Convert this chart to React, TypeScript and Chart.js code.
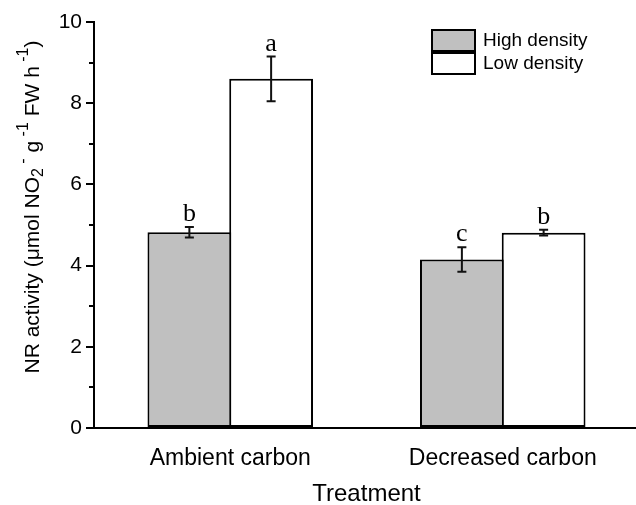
import React, { useEffect, useRef } from "react";
import { Chart, registerables } from "chart.js";

Chart.register(...registerables);

const categories = ["Ambient carbon", "Decreased carbon"];
const seriesNames = ["High density", "Low density"];
const highValues = [4.82, 4.15];
const highErrors = [0.13, 0.3];
const lowValues = [8.6, 4.81];
const lowErrors = [0.55, 0.07];
const highLetters = ["b", "c"];
const lowLetters = ["a", "b"];
const yTicks = [0, 2, 4, 6, 8, 10];
const yMinorTicks = [1, 3, 5, 7, 9];

const SANS = '"Liberation Sans", Arial, sans-serif';
const SERIF = '"Liberation Serif", "Times New Roman", serif';
const GREY = "#c0c0c0";

const errors = [highErrors, lowErrors];
const letters = [highLetters, lowLetters];

const decorPlugin = {
  id: "decor",
  afterDraw(chart: any) {
    const ctx = chart.ctx;
    const y = chart.scales.y;
    const area = chart.chartArea;
    ctx.save();
    // minor ticks
    ctx.strokeStyle = "#000";
    ctx.lineWidth = 2;
    yMinorTicks.forEach((v) => {
      const py = Math.round(y.getPixelForValue(v));
      ctx.beginPath();
      ctx.moveTo(area.left - 5, py);
      ctx.lineTo(area.left, py);
      ctx.stroke();
    });
    // error bars + letters
    chart.data.datasets.forEach((ds: any, di: number) => {
      const meta = chart.getDatasetMeta(di);
      meta.data.forEach((bar: any, i: number) => {
        const v = ds.data[i];
        const e = errors[di][i];
        const top = y.getPixelForValue(v + e);
        const bot = y.getPixelForValue(v - e);
        const x = bar.x;
        ctx.strokeStyle = "#111";
        ctx.lineWidth = 2;
        ctx.beginPath();
        ctx.moveTo(x, top);
        ctx.lineTo(x, bot);
        ctx.moveTo(x - 4.5, top);
        ctx.lineTo(x + 4.5, top);
        ctx.moveTo(x - 4.5, bot);
        ctx.lineTo(x + 4.5, bot);
        ctx.stroke();
        ctx.fillStyle = "#000";
        ctx.font = `26px ${SERIF}`;
        ctx.textAlign = "center";
        ctx.textBaseline = "alphabetic";
        ctx.fillText(letters[di][i], x, top - 6);
      });
    });
    // legend
    const lx = area.right - 207;
    const ly = area.top + 8;
    const fills = [GREY, "#ffffff"];
    seriesNames.forEach((name, i) => {
      const by = ly + i * 23;
      ctx.fillStyle = fills[i];
      ctx.fillRect(lx, by, 43, 21);
      ctx.strokeStyle = "#000";
      ctx.lineWidth = 2;
      ctx.strokeRect(lx, by, 43, 21);
      ctx.fillStyle = "#000";
      ctx.font = `19px ${SANS}`;
      ctx.textAlign = "left";
      ctx.textBaseline = "middle";
      ctx.fillText(name, lx + 51, by + 11);
    });
    // y title with sub/superscripts
    const segs = [
      { t: "NR activity (\u03bcmol NO", k: 0 },
      { t: "2", k: -1 },
      { t: " -", k: 1 },
      { t: " g", k: 0 },
      { t: " -1", k: 1 },
      { t: " FW h", k: 0 },
      { t: " -1", k: 1 },
      { t: ")", k: 0 },
    ];
    const fs = 21;
    const ss = 16;
    let total = 0;
    segs.forEach((s) => {
      ctx.font = `${s.k === 0 ? fs : ss}px ${SANS}`;
      total += ctx.measureText(s.t).width;
    });
    const cx = 33;
    const cy = (area.top + area.bottom) / 2 - 18;
    ctx.translate(cx, cy);
    ctx.rotate(-Math.PI / 2);
    ctx.fillStyle = "#000";
    ctx.textAlign = "left";
    ctx.textBaseline = "middle";
    let xx = -total / 2;
    segs.forEach((s) => {
      ctx.font = `${s.k === 0 ? fs : ss}px ${SANS}`;
      const off = s.k === 1 ? -9 : s.k === -1 ? 6 : 0;
      ctx.fillText(s.t, xx, off);
      xx += ctx.measureText(s.t).width;
    });
    ctx.restore();
  },
};

export default function App() {
  const ref = useRef<HTMLCanvasElement>(null);
  useEffect(() => {
    if (!ref.current) return;
    Chart.defaults.font.family = SANS;
    Chart.defaults.color = "#000";
    const chart = new Chart(ref.current, {
      type: "bar",
      data: {
        labels: categories,
        datasets: [
          {
            label: seriesNames[0],
            data: highValues,
            backgroundColor: GREY,
            borderColor: "#000",
            borderWidth: 2,
            borderSkipped: false,
          },
          {
            label: seriesNames[1],
            data: lowValues,
            backgroundColor: "#ffffff",
            borderColor: "#000",
            borderWidth: 2,
            borderSkipped: false,
          },
        ],
      },
      options: {
        responsive: false,
        animation: false,
        layout: { padding: { left: 0, right: 5, top: 22, bottom: 0 } },
        plugins: {
          legend: { display: false },
          tooltip: { enabled: false },
        },
        datasets: { bar: { barPercentage: 1.025, categoryPercentage: 0.6 } },
        scales: {
          x: {
            offset: true,
            grid: { display: false },
            border: { display: true, color: "#000", width: 2 },
            ticks: { font: { size: 23 }, color: "#000", padding: 9 },
            title: {
              display: true,
              text: "Treatment",
              font: { size: 24, lineHeight: 0.85 },
              color: "#000",
              padding: { top: 4, bottom: 0 },
            },
            afterFit: (s: any) => {
              s.height = 77;
            },
          },
          y: {
            min: 0,
            max: 10,
            afterBuildTicks: (s: any) => {
              s.ticks = yTicks.map((v) => ({ value: v }));
            },
            grid: {
              drawOnChartArea: false,
              drawTicks: true,
              tickLength: 8,
              color: "#000",
              lineWidth: 2,
            },
            border: { display: true, color: "#000", width: 2 },
            ticks: { font: { size: 21 }, color: "#000", padding: 4 },
            afterFit: (s: any) => {
              s.width = 94;
            },
          },
        },
      },
      plugins: [decorPlugin],
    });
    return () => chart.destroy();
  }, []);
  return (
    <div
      style={{
        position: "fixed",
        left: 0,
        top: 0,
        width: 636,
        height: 505,
        overflow: "hidden",
        background: "#fff",
      }}
    >
      <canvas ref={ref} width={644} height={505} style={{ width: 644, height: 505 }} />
    </div>
  );
}
